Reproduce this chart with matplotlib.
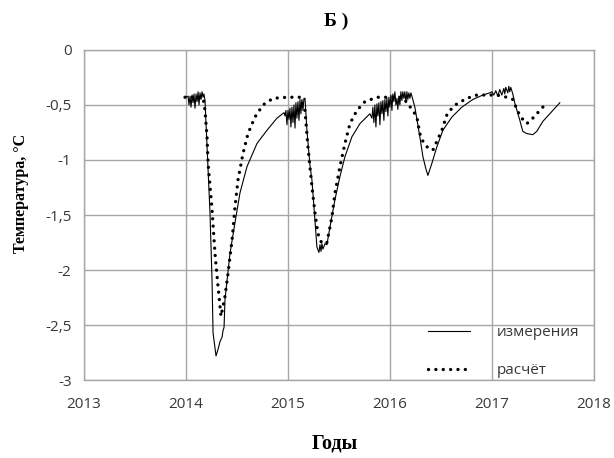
import matplotlib
matplotlib.use("Agg")
import matplotlib.pyplot as plt

# measured ground temperature (thin line)
meas_year = [
    2014.000, 2014.020, 2014.029, 2014.039, 2014.049, 2014.059, 2014.069, 2014.078,
    2014.088, 2014.098, 2014.108, 2014.118, 2014.127, 2014.137, 2014.147, 2014.157,
    2014.167, 2014.176, 2014.186, 2014.206, 2014.235, 2014.255, 2014.265, 2014.294,
    2014.314, 2014.333, 2014.353, 2014.363, 2014.373, 2014.382, 2014.431, 2014.480,
    2014.529, 2014.598, 2014.696, 2014.794, 2014.892, 2014.961, 2014.971, 2014.980,
    2014.990, 2015.000, 2015.010, 2015.020, 2015.029, 2015.039, 2015.049, 2015.059,
    2015.069, 2015.078, 2015.088, 2015.098, 2015.108, 2015.118, 2015.127, 2015.137,
    2015.147, 2015.157, 2015.167, 2015.186, 2015.216, 2015.235, 2015.265, 2015.284,
    2015.304, 2015.314, 2015.324, 2015.333, 2015.343, 2015.363, 2015.382, 2015.412,
    2015.461, 2015.510, 2015.559, 2015.627, 2015.706, 2015.804, 2015.824, 2015.833,
    2015.843, 2015.853, 2015.863, 2015.873, 2015.882, 2015.892, 2015.902, 2015.912,
    2015.922, 2015.931, 2015.941, 2015.951, 2015.961, 2015.971, 2015.980, 2015.990,
    2016.000, 2016.010, 2016.020, 2016.029, 2016.039, 2016.049, 2016.059, 2016.069,
    2016.078, 2016.088, 2016.098, 2016.108, 2016.118, 2016.127, 2016.137, 2016.147,
    2016.157, 2016.167, 2016.176, 2016.186, 2016.196, 2016.206, 2016.216, 2016.245,
    2016.294, 2016.324, 2016.353, 2016.373, 2016.412, 2016.461, 2016.520, 2016.608,
    2016.706, 2016.814, 2016.912, 2016.980, 2017.000, 2017.020, 2017.039, 2017.059,
    2017.078, 2017.098, 2017.118, 2017.127, 2017.137, 2017.157, 2017.167, 2017.176,
    2017.186, 2017.206, 2017.225, 2017.275, 2017.304, 2017.343, 2017.402, 2017.441,
    2017.500, 2017.569, 2017.667,
]
meas_temp = [
    -0.43, -0.42, -0.50, -0.42, -0.52, -0.41, -0.48, -0.40,
    -0.53, -0.40, -0.47, -0.38, -0.50, -0.39, -0.45, -0.38,
    -0.43, -0.40, -0.46, -0.88, -1.48, -2.09, -2.57, -2.78,
    -2.72, -2.65, -2.61, -2.55, -2.52, -2.27, -1.85, -1.57,
    -1.30, -1.06, -0.85, -0.73, -0.62, -0.57, -0.60, -0.55,
    -0.68, -0.55, -0.63, -0.53, -0.70, -0.52, -0.66, -0.50,
    -0.71, -0.48, -0.62, -0.47, -0.64, -0.45, -0.58, -0.45,
    -0.55, -0.44, -0.44, -0.73, -1.05, -1.18, -1.55, -1.79,
    -1.84, -1.77, -1.83, -1.76, -1.81, -1.76, -1.77, -1.61,
    -1.36, -1.15, -0.97, -0.79, -0.67, -0.58, -0.62, -0.52,
    -0.66, -0.50, -0.70, -0.49, -0.60, -0.48, -0.68, -0.47,
    -0.58, -0.46, -0.64, -0.45, -0.56, -0.44, -0.60, -0.43,
    -0.52, -0.41, -0.55, -0.40, -0.47, -0.38, -0.50, -0.44,
    -0.54, -0.42, -0.50, -0.38, -0.46, -0.38, -0.44, -0.38,
    -0.48, -0.38, -0.45, -0.39, -0.44, -0.39, -0.42, -0.52,
    -0.79, -0.97, -1.08, -1.14, -1.03, -0.88, -0.73, -0.61,
    -0.52, -0.45, -0.41, -0.39, -0.38, -0.41, -0.37, -0.42,
    -0.36, -0.41, -0.35, -0.40, -0.34, -0.39, -0.33, -0.38,
    -0.34, -0.40, -0.48, -0.64, -0.74, -0.76, -0.77, -0.74,
    -0.65, -0.58, -0.48,
]

# model result (dotted line)
calc_year = [
    2013.990, 2014.167, 2014.186, 2014.206, 2014.216, 2014.255, 2014.284, 2014.314,
    2014.343, 2014.382, 2014.412, 2014.451, 2014.480, 2014.510, 2014.559, 2014.608,
    2014.676, 2014.755, 2014.853, 2014.990, 2015.118, 2015.167, 2015.196, 2015.235,
    2015.265, 2015.294, 2015.333, 2015.382, 2015.431, 2015.461, 2015.510, 2015.559,
    2015.608, 2015.676, 2015.755, 2015.873, 2016.127, 2016.225, 2016.265, 2016.294,
    2016.324, 2016.373, 2016.422, 2016.461, 2016.510, 2016.559, 2016.608, 2016.657,
    2016.755, 2016.853, 2017.049, 2017.147, 2017.206, 2017.255, 2017.294, 2017.343,
    2017.402, 2017.471, 2017.539,
]
calc_temp = [
    -0.43, -0.43, -0.55, -0.79, -1.03, -1.45, -1.85, -2.15,
    -2.42, -2.24, -2.03, -1.73, -1.43, -1.18, -0.94, -0.76,
    -0.61, -0.50, -0.44, -0.43, -0.43, -0.55, -0.88, -1.24,
    -1.48, -1.67, -1.76, -1.75, -1.52, -1.30, -1.06, -0.85,
    -0.67, -0.55, -0.47, -0.43, -0.43, -0.55, -0.61, -0.76,
    -0.83, -0.89, -0.91, -0.83, -0.73, -0.59, -0.53, -0.49,
    -0.44, -0.41, -0.41, -0.43, -0.45, -0.56, -0.62, -0.67,
    -0.62, -0.55, -0.48,
]

x_ticks = [2013, 2014, 2015, 2016, 2017, 2018]
y_ticks = [0, -0.5, -1, -1.5, -2, -2.5, -3]
y_tick_labels = ["0", "-0,5", "-1", "-1,5", "-2", "-2,5", "-3"]

tick_font = "Open Sans"
head_font = "Liberation Serif"
grid_col = "#a6a6a6"
text_col = "#383838"

fig = plt.figure(figsize=(6.14, 4.58), dpi=100)
ax = fig.add_axes([0.137, 0.170, 0.830, 0.721])

ax.plot(meas_year, meas_temp, color="black", lw=0.8, label="измерения")
ax.plot(calc_year, calc_temp, color="black", lw=2.4,
        linestyle=(0, (0.01, 2.2)), dash_capstyle="round", label="расчёт")

ax.set_xlim(2013, 2018)
ax.set_ylim(-3, 0)
ax.set_xticks(x_ticks)
ax.set_xticklabels([str(t) for t in x_ticks])
ax.set_yticks(y_ticks)
ax.set_yticklabels(y_tick_labels)
ax.grid(True, color=grid_col, lw=1)
ax.set_axisbelow(True)
for s in ax.spines.values():
    s.set_color(grid_col)
    s.set_linewidth(1)
ax.tick_params(length=0, labelsize=11, labelcolor=text_col)
ax.tick_params(axis="x", pad=12)
ax.tick_params(axis="y", pad=9)
for lab in ax.get_xticklabels() + ax.get_yticklabels():
    lab.set_family(tick_font)

leg = ax.legend(loc="upper left", bbox_to_anchor=(0.697, 0.290),
                bbox_transform=fig.transFigure, frameon=False,
                borderpad=0, borderaxespad=0, handlelength=2.75,
                handletextpad=1.75, labelspacing=1.5,
                prop={"family": tick_font, "size": 11})
for t in leg.get_texts():
    t.set_color(text_col)

fig.text(336 / 614, 1 - 21 / 458, "Б )", ha="center", va="center",
         family=head_font, weight="bold", fontsize=14)
fig.text(21 / 614, 1 - 193 / 458, "Температура, °C", ha="center", va="center",
         rotation=90, family=head_font, weight="bold", fontsize=11.5)
fig.text(335 / 614, 1 - 443 / 458, "Годы", ha="center", va="center",
         family=head_font, weight="bold", fontsize=14.5)

fig.savefig("out.png", dpi=100)
